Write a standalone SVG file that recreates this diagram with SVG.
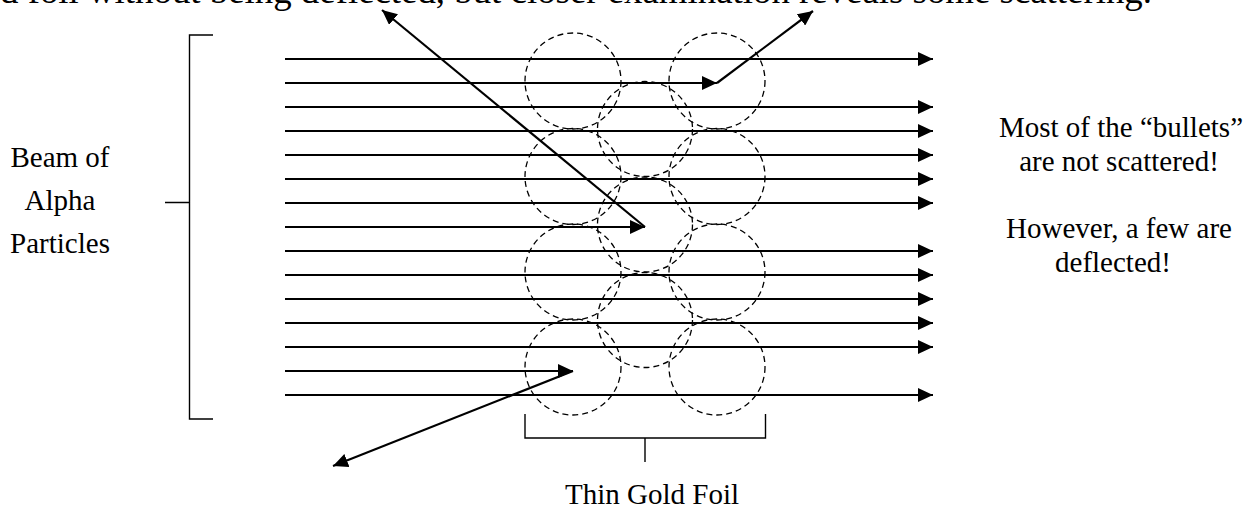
<svg xmlns="http://www.w3.org/2000/svg" width="1253" height="509" viewBox="0 0 1253 509">
  <style>
    .txt { font-family: "Liberation Serif", "Times New Roman", serif; fill: #000; }
    .lbl { font-size: 29px; }
    .atom { fill: none; stroke: #000; stroke-width: 1.3; stroke-dasharray: 6 4; }
    .brk { fill: none; stroke: #000; stroke-width: 1.4; }
    .ray { fill: none; stroke: #000; stroke-width: 2.2; marker-end: url(#head); }
  </style>
  <defs>
    <marker id="head" viewBox="0 0 15 14" refX="15" refY="7" markerWidth="15" markerHeight="14" markerUnits="userSpaceOnUse" orient="auto">
      <path d="M0,0 L15,7 L0,14 Z" fill="#000"/>
    </marker>
  </defs>
  <rect width="1253" height="509" fill="#fff"/>

  <!-- caption line, clipped at the top edge -->
  <g id="caption">
    <text class="txt" x="0" y="3" font-size="36.5" textLength="1152" lengthAdjust="spacingAndGlyphs">d foil without being deflected, but closer examination reveals some scattering.</text>
  </g>

  <!-- source label and its bracket -->
  <g id="beam-label">
    <text class="txt lbl" text-anchor="middle" x="60" y="167">Beam of</text>
    <text class="txt lbl" text-anchor="middle" x="60" y="210">Alpha</text>
    <text class="txt lbl" text-anchor="middle" x="60" y="253">Particles</text>
  </g>
  <g id="beam-bracket">
    <path class="brk" d="M213,35 H189.5 V419 H213 M165,202.5 H189.5"/>
  </g>

  <!-- gold atoms in the foil -->
  <g id="foil-atoms">
    <circle class="atom" cx="573" cy="81" r="48"/>
    <circle class="atom" cx="573" cy="176.5" r="48"/>
    <circle class="atom" cx="573" cy="272" r="48"/>
    <circle class="atom" cx="573" cy="367" r="48"/>
    <circle class="atom" cx="645" cy="129" r="47.5"/>
    <circle class="atom" cx="645" cy="224.5" r="47.5"/>
    <circle class="atom" cx="645" cy="320" r="47.5"/>
    <circle class="atom" cx="717" cy="81" r="48"/>
    <circle class="atom" cx="717" cy="176.5" r="48"/>
    <circle class="atom" cx="717" cy="272" r="48"/>
    <circle class="atom" cx="717" cy="367" r="48"/>
  </g>

  <!-- foil bracket and label -->
  <g id="foil-bracket">
    <path class="brk" d="M525,414 V438 H765.5 V414 M645,438 V462"/>
  </g>
  <g id="foil-label">
    <text class="txt lbl" text-anchor="middle" x="652" y="504">Thin Gold Foil</text>
  </g>

  <!-- observations -->
  <g id="notes">
    <text class="txt lbl" text-anchor="middle" x="1121" y="137">Most of the “bullets”</text>
    <text class="txt lbl" text-anchor="middle" x="1119" y="171">are not scattered!</text>
    <text class="txt lbl" text-anchor="middle" x="1119" y="238">However, a few are</text>
    <text class="txt lbl" text-anchor="middle" x="1113" y="272">deflected!</text>
  </g>

  <!-- particle paths -->
  <g id="connectors">
    <line class="ray" x1="285" y1="59" x2="933" y2="59"/>
    <line class="ray" x1="285" y1="83" x2="717" y2="83"/>
    <line class="ray" x1="285" y1="107" x2="933" y2="107"/>
    <line class="ray" x1="285" y1="131" x2="933" y2="131"/>
    <line class="ray" x1="285" y1="155" x2="933" y2="155"/>
    <line class="ray" x1="285" y1="179" x2="933" y2="179"/>
    <line class="ray" x1="285" y1="203" x2="933" y2="203"/>
    <line class="ray" x1="285" y1="227" x2="645" y2="227"/>
    <line class="ray" x1="285" y1="251" x2="933" y2="251"/>
    <line class="ray" x1="285" y1="275" x2="933" y2="275"/>
    <line class="ray" x1="285" y1="299" x2="933" y2="299"/>
    <line class="ray" x1="285" y1="323" x2="933" y2="323"/>
    <line class="ray" x1="285" y1="347" x2="933" y2="347"/>
    <line class="ray" x1="285" y1="371" x2="573" y2="371"/>
    <line class="ray" x1="285" y1="395" x2="933" y2="395"/>
    <line class="ray" x1="717" y1="83" x2="813" y2="11"/>
    <line class="ray" x1="645" y1="227" x2="382" y2="10"/>
    <line class="ray" x1="573" y1="371" x2="333" y2="466"/>
  </g>
</svg>
